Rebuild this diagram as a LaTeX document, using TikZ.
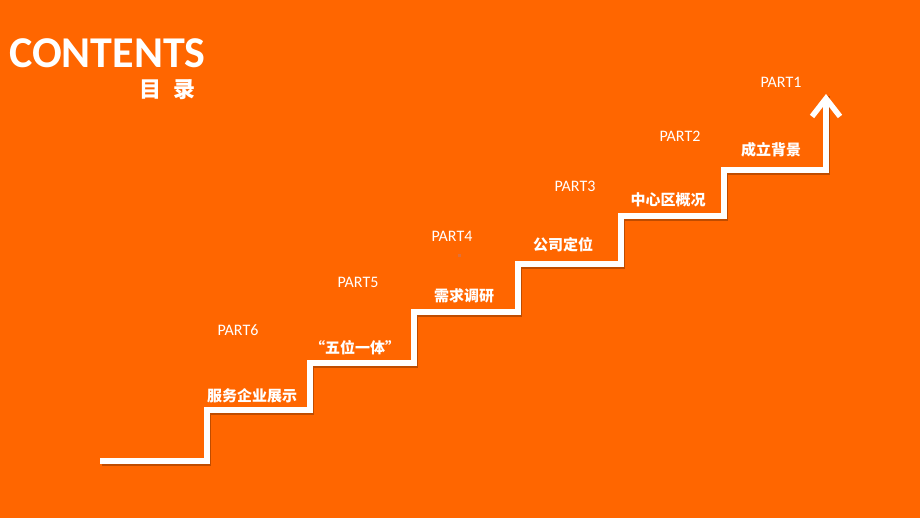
\documentclass[tikz,border=0pt]{standalone}
\usepackage{fontspec}
\setmainfont{Carlito}
\newfontfamily\cjk{Noto Sans CJK SC}
\usepackage{tikz}
\usetikzlibrary{arrows.meta}
\definecolor{bg}{HTML}{FF6600}
\definecolor{stairwhite}{HTML}{FFFFFF}
\definecolor{dot}{HTML}{E0703A}
\tikzset{
  stair/.style={draw=stairwhite, line width=5.5pt, miter limit=4},
  stairshadow/.style={draw=black, opacity=0.25, line width=5.5pt},
  title/.style={text=white, font=\fontsize{44}{44}\selectfont\bfseries},
  steplab/.style={text=white, font=\cjk\bfseries\fontsize{15}{15}\selectfont},
  partlab/.style={text=white, font=\fontsize{16}{16}\selectfont},
}

\begin{document}
\begin{tikzpicture}[x=1pt,y=-1pt]
  \fill[bg] (0,0) rectangle (920,518);
  % stair corners
  \coordinate (s0) at (100,461);
  \coordinate (r1) at (207,461);
  \coordinate (t1) at (207,410);
  \coordinate (r2) at (310,410);
  \coordinate (t2) at (310,363);
  \coordinate (r3) at (414,363);
  \coordinate (t3) at (414,312);
  \coordinate (r4) at (518,312);
  \coordinate (t4) at (518,264);
  \coordinate (r5) at (621,264);
  \coordinate (t5) at (621,216);
  \coordinate (r6) at (724,216);
  \coordinate (t6) at (724,170);
  \coordinate (r7) at (826,170);
  \coordinate (top) at (826,94);
  \draw[stairshadow, transform canvas={shift={(1.5pt,-2pt)}}]
    (s0)--(r1)--(t1)--(r2)--(t2)--(r3)--(t3)--(r4)--(t4)--(r5)--(t5)--(r6)--(t6)--(r7)--(top);
  \draw[stair, -{Straight Barb[length=18pt,width=28pt]}]
    (s0)--(r1)--(t1)--(r2)--(t2)--(r3)--(t3)--(r4)--(t4)--(r5)--(t5)--(r6)--(t6)--(r7)--(top);
  % titles
  \node[title, anchor=base west, inner sep=0] (contents) at (9,68) {CONTENTS};
  \node[text=white, font=\cjk\bfseries\fontsize{22}{22}\selectfont, anchor=base east, inner sep=0]
    (mulu) at (196,98) {目\hspace{12pt}录};
  % step labels
  \node[steplab] (step6) at (252,396) {服务企业展示};
  \node[steplab] (step5) at (355,348) {“五位一体”};
  \node[steplab] (step4) at (464,296) {需求调研};
  \node[steplab] (step3) at (563,245) {公司定位};
  \node[steplab] (step2) at (668,200) {中心区概况};
  \node[steplab] (step1) at (771,150) {成立背景};
  % part labels
  \node[partlab] (part6) at (238,330) {PART6};
  \node[partlab] (part5) at (358,282) {PART5};
  \node[partlab] (part4) at (452,236) {PART4};
  \node[partlab] (part3) at (575,186) {PART3};
  \node[partlab] (part2) at (680,136) {PART2};
  \node[partlab] (part1) at (781,82) {PART1};
  \fill[dot] (457.5,254.5) rectangle (460.5,257.5);
\end{tikzpicture}
\end{document}
